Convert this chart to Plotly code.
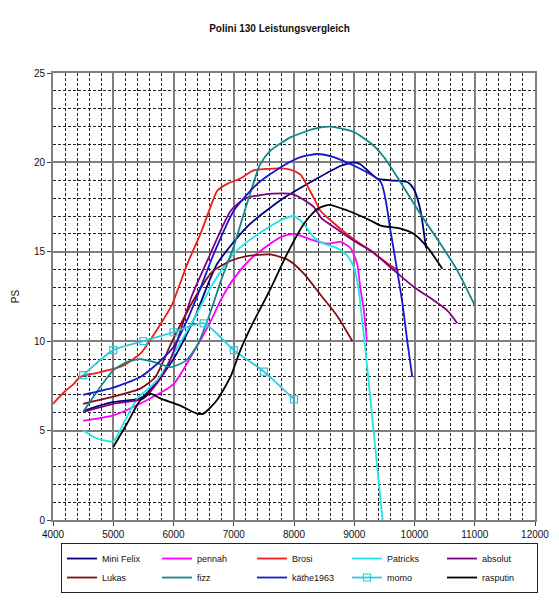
import plotly.graph_objects as go

title_text = "Polini 130 Leistungsvergleich"
y_title = "PS"

mini_felix_x = [4500, 5000, 5450, 5700, 6000, 6336, 6720, 7220, 7780, 8330, 8770, 9000, 9100, 9380, 9600, 9880, 9990, 10100, 10190]
mini_felix_y = [6.1, 6.6, 6.8, 7.6, 9.0, 11.2, 14.3, 16.4, 17.9, 19.0, 19.8, 20.0, 19.9, 19.1, 19.0, 18.9, 18.5, 17.3, 15.2]

pennah_x = [4500, 5000, 5500, 6000, 6300, 6600, 6800, 7000, 7250, 7500, 7800, 8000, 8270, 8550, 8770, 8940, 9050, 9100, 9160, 9210]
pennah_y = [5.55, 5.85, 6.6, 7.6, 9.2, 11.0, 12.4, 13.5, 14.5, 15.2, 15.85, 16.0, 15.7, 15.45, 15.55, 15.2, 14.3, 13.0, 11.7, 10.0]

brosi_x = [4000, 4200, 4340, 4450, 4700, 5000, 5170, 5450, 5600, 5830, 5970, 6226, 6447, 6613, 6723, 6890, 7110, 7330, 7770, 7940, 8110, 8330, 8440, 8610, 8990, 9270, 9600, 9740]
brosi_y = [6.5, 7.2, 7.6, 8.0, 8.2, 8.45, 8.65, 9.3, 10.0, 11.2, 12.0, 14.3, 16.0, 17.5, 18.4, 18.8, 19.1, 19.55, 19.67, 19.6, 19.3, 18.0, 17.3, 16.75, 15.7, 15.07, 14.23, 13.96]

patricks_x = [4500, 4700, 4850, 5000, 5200, 5400, 5600, 5750, 6000, 6300, 6600, 6800, 7000, 7200, 7500, 7800, 8000, 8150, 8330, 8500, 8720, 8880, 9000, 9080, 9130, 9170, 9270, 9380, 9470]
patricks_y = [5.0, 4.6, 4.45, 4.4, 5.6, 6.8, 7.4, 7.9, 9.3, 11.0, 12.9, 14.0, 14.9, 15.5, 16.2, 16.8, 17.0, 16.6, 15.8, 15.45, 15.2, 14.8, 14.1, 12.7, 11.2, 10.0, 6.7, 3.0, 0.0]

absolut_x = [4500, 5000, 5500, 5800, 6000, 6300, 6600, 6950, 7200, 7650, 8000, 8330, 8450, 8700, 9000, 9300, 9660, 10000, 10320, 10550, 10710]
absolut_y = [6.05, 6.5, 6.8, 8.0, 9.4, 12.5, 14.8, 17.3, 18.0, 18.25, 18.2, 17.5, 16.9, 16.3, 15.6, 15.0, 13.96, 13.0, 12.28, 11.7, 11.0]

lukas_x = [4500, 5000, 5450, 5700, 5950, 6350, 6650, 6950, 7200, 7600, 7900, 8160, 8440, 8720, 8970]
lukas_y = [6.5, 6.9, 7.35, 8.0, 9.8, 12.4, 13.9, 14.5, 14.75, 14.85, 14.55, 13.8, 12.6, 11.4, 10.0]

fizz_x = [4500, 5000, 5230, 5450, 5670, 5950, 6200, 6400, 6600, 6800, 7000, 7220, 7440, 7610, 7940, 8330, 8600, 8990, 9300, 9490, 9710, 10100, 10430, 10710, 11000]
fizz_y = [6.05, 8.37, 8.84, 9.0, 8.84, 8.55, 8.9, 9.8, 11.5, 13.5, 15.3, 17.7, 19.9, 20.66, 21.4, 21.87, 22.0, 21.7, 21.0, 20.3, 19.2, 17.1, 15.45, 13.96, 12.0]

kaethe_x = [4500, 5000, 5450, 5730, 6000, 6224, 6450, 6670, 7000, 7390, 7780, 8110, 8390, 8660, 9050, 9440, 9600, 9710, 9800, 9880, 9963]
kaethe_y = [7.0, 7.4, 8.0, 8.74, 9.67, 11.16, 13.0, 14.9, 17.3, 18.8, 19.73, 20.29, 20.47, 20.29, 19.73, 18.9, 16.2, 14.0, 12.1, 10.0, 8.0]

momo_x = [4500, 5000, 5500, 6000, 6500, 7000, 7500, 8000]
momo_y = [8.1, 9.5, 10.0, 10.5, 11.0, 9.5, 8.3, 6.75]

rasputin_x = [5000, 5230, 5450, 5616, 5780, 6115, 6390, 6500, 6720, 6945, 7110, 7300, 7610, 7887, 8163, 8385, 8580, 8884, 9271, 9437, 9770, 9990, 10213, 10462]
rasputin_y = [4.08, 5.4, 6.7, 7.07, 6.8, 6.4, 5.95, 5.95, 6.7, 8.0, 9.5, 10.9, 12.93, 14.9, 16.56, 17.4, 17.63, 17.31, 16.75, 16.47, 16.3, 16.0, 15.26, 14.05]

series = [
    ("Mini Felix", mini_felix_x, mini_felix_y, "#000080", False),
    ("pennah", pennah_x, pennah_y, "#ff00ff", False),
    ("Brosi", brosi_x, brosi_y, "#ee1c1c", False),
    ("Patricks", patricks_x, patricks_y, "#22e4e4", False),
    ("absolut", absolut_x, absolut_y, "#800080", False),
    ("Lukas", lukas_x, lukas_y, "#801010", False),
    ("fizz", fizz_x, fizz_y, "#108888", False),
    ("käthe1963", kaethe_x, kaethe_y, "#1818cc", False),
    ("momo", momo_x, momo_y, "#33c8dc", True),
    ("rasputin", rasputin_x, rasputin_y, "#000000", False),
]

FONT = "Liberation Sans, Arial, sans-serif"

fig = go.Figure()
for name, xs, ys, color, markers in series:
    fig.add_trace(go.Scatter(
        x=xs, y=ys, name=name,
        mode="lines+markers" if markers else "lines",
        line=dict(color=color, width=1.8, shape="spline", smoothing=0.6),
        marker=dict(symbol="square-open", size=7, color=color, line=dict(width=1.2, color=color)),
    ))

grid_major = "#808080"
fig.update_layout(
    width=559, height=600,
    margin=dict(l=53, r=24, t=73, b=80, autoexpand=False),
    paper_bgcolor="white", plot_bgcolor="white",
    font=dict(family=FONT, size=10, color="#111"),
    title=dict(text="<b>" + title_text + "</b>", x=0.5, xref="container", xanchor="center",
               y=1 - 28 / 600, yref="container", yanchor="middle",
               font=dict(family=FONT, size=10, color="#111")),
    showlegend=True,
    legend=dict(orientation="h", x=0.0166, xanchor="left", y=-0.0515, yanchor="top",
                bordercolor="#222", borderwidth=1, bgcolor="white",
                entrywidth=50, entrywidthmode="pixels",
                font=dict(family=FONT, size=9, color="#111"),
                itemwidth=30, tracegroupgap=0),
    xaxis=dict(range=[4000, 12000], tick0=4000, dtick=1000, tickformat="d", showgrid=True,
               gridcolor=grid_major, gridwidth=2, zeroline=False,
               showline=True, mirror=True, linecolor=grid_major, linewidth=2,
               ticks="outside", ticklen=4, tickcolor="#444", tickwidth=1,
               tickfont=dict(family=FONT, size=10, color="#111"),
               minor=dict(dtick=200, tick0=4000, showgrid=True, gridcolor="#222",
                          griddash="3px,2px", gridwidth=1)),
    yaxis=dict(range=[0, 25], tick0=0, dtick=5, showgrid=True,
               gridcolor=grid_major, gridwidth=2, zeroline=False,
               showline=True, mirror=True, linecolor=grid_major, linewidth=2,
               ticks="outside", ticklen=4, tickcolor="#444", tickwidth=1,
               tickfont=dict(family=FONT, size=10, color="#111"),
               title=dict(text=y_title, standoff=12, font=dict(family=FONT, size=10, color="#111")),
               minor=dict(dtick=1, tick0=0, showgrid=True, gridcolor="#222",
                          griddash="3px,2px", gridwidth=1)),
)

fig.write_html("out.html")
